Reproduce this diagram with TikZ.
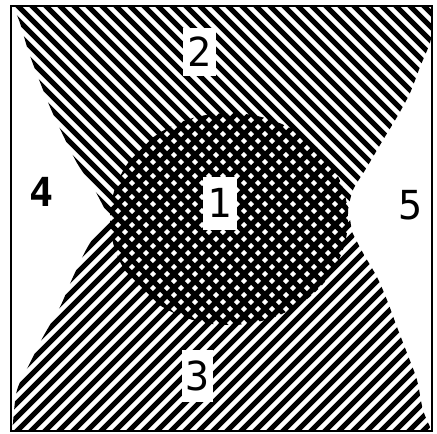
\documentclass[tikz,border=0pt]{standalone}
\usepackage{fontspec}
\newfontfamily\digfont{DejaVu Sans Mono}
\begin{document}
\begin{tikzpicture}[x=1pt,y=-1pt,
  hatch/.style={line width=5.2pt},
  lbl/.style={font=\digfont\fontsize{40}{40}\selectfont, inner sep=0pt},
  lblbox/.style={lbl, fill=white}]
\useasboundingbox (0,0) rectangle (437,434);
\fill[white] (0,0) rectangle (437,434);
% region 2 (top fan)
\begin{scope}
\clip (11,6) -- plot[smooth] coordinates {(13,6) (20,23) (28,50) (38,77) (50,107) (62,133) (77,163) (93,187) (107,213) (113,221)} -- (348,221) -- plot[smooth] coordinates {(348,210) (353,190) (367,167) (383,140) (397,117) (410,93) (420,67) (430,43) (432,30)} -- (432,6) -- cycle;
\foreach \c in {-450,-436,...,450} \draw[hatch] (\c,0) -- ++(450,450);
\end{scope}
% region 3 (bottom fan)
\begin{scope}
\clip (110,219) -- (350,219) -- plot[smooth] coordinates {(352,232) (363,253) (377,277) (387,300) (397,327) (407,353) (417,380) (423,410) (432,431)} -- (11,431) -- plot[smooth] coordinates {(13,423) (17,390) (30,363) (43,337) (60,307) (73,277) (90,243) (110,219)} -- cycle;
\foreach \c in {0,14,...,900} \draw[hatch] (\c,0) -- ++(-450,450);
\end{scope}
% region 1 (cross-hatched disc)
\begin{scope}
\clip (229,219) ellipse [x radius=119, y radius=106];
\foreach \c in {-450,-436,...,450} \draw[hatch] (\c,0) -- ++(450,450);
\foreach \c in {0,14,...,900} \draw[hatch] (\c,0) -- ++(-450,450);
\end{scope}
% labels
\node[lblbox, minimum width=34pt, minimum height=53pt] (n1) at (220,203) {1};
\node[lblbox, minimum width=33pt, minimum height=48pt] (n2) at (199.5,52) {2};
\node[lblbox, minimum width=31pt, minimum height=52pt] (n3) at (197.5,376) {3};
\node[lbl, font=\digfont\bfseries\fontsize{40}{40}\selectfont] (n4) at (42,192) {4};
\node[lbl] (n5) at (411,205) {5};
% frame
\draw[line width=2pt] (11,6) rectangle (432,431);
\end{tikzpicture}
\end{document}
